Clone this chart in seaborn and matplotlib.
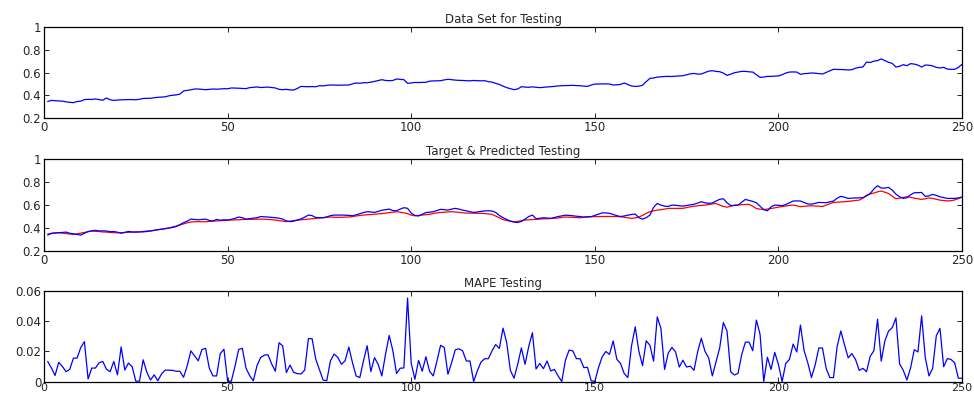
import numpy as np
import pandas as pd
import matplotlib
matplotlib.use('Agg')
import matplotlib.pyplot as plt
import matplotlib.ticker as mticker
import seaborn as sns

sns.set_style('ticks')
plt.rcParams['font.family'] = ['DejaVu Sans']
plt.rcParams['font.size'] = 8

# Data set for testing (normalised input)
data_test = [
    0.345, 0.355, 0.352, 0.35, 0.348, 0.342, 0.338, 0.335, 0.345, 0.348,
    0.362, 0.364, 0.363, 0.367, 0.362, 0.356, 0.376, 0.36, 0.355, 0.358,
    0.36, 0.361, 0.362, 0.362, 0.36, 0.365, 0.372, 0.373, 0.373, 0.378,
    0.382, 0.384, 0.386, 0.395, 0.4, 0.403, 0.41, 0.438, 0.443, 0.448,
    0.455, 0.455, 0.452, 0.449, 0.452, 0.455, 0.453, 0.455, 0.458, 0.457,
    0.464, 0.463, 0.462, 0.46, 0.458, 0.467, 0.47, 0.473, 0.468, 0.47,
    0.472, 0.468, 0.464, 0.452, 0.449, 0.452, 0.447, 0.446, 0.46, 0.478,
    0.476, 0.475, 0.476, 0.475, 0.484, 0.482, 0.487, 0.49, 0.49, 0.488,
    0.489, 0.49, 0.49, 0.5, 0.508, 0.505, 0.51, 0.51, 0.515, 0.522,
    0.53, 0.537, 0.53, 0.528, 0.53, 0.543, 0.54, 0.537, 0.505, 0.508,
    0.513, 0.512, 0.513, 0.514, 0.524, 0.526, 0.527, 0.528, 0.535, 0.54,
    0.537, 0.533, 0.531, 0.53, 0.528, 0.527, 0.53, 0.528, 0.527, 0.528,
    0.52, 0.515, 0.505, 0.495, 0.48, 0.467, 0.458, 0.449, 0.455, 0.475,
    0.472, 0.47, 0.474, 0.47, 0.467, 0.47, 0.473, 0.475, 0.478, 0.482,
    0.484, 0.485, 0.486, 0.487, 0.485, 0.484, 0.48, 0.478, 0.49, 0.498,
    0.499, 0.5, 0.5, 0.499, 0.49, 0.492, 0.495, 0.508, 0.495, 0.481,
    0.478, 0.48, 0.488, 0.52, 0.548, 0.552, 0.56, 0.562, 0.565, 0.566,
    0.565, 0.568, 0.57, 0.572, 0.58, 0.588, 0.592, 0.586, 0.587, 0.6,
    0.612, 0.616, 0.61, 0.607, 0.595, 0.575, 0.585, 0.598, 0.604, 0.61,
    0.61, 0.606, 0.604, 0.58, 0.557, 0.56, 0.566, 0.566, 0.568, 0.57,
    0.58, 0.595, 0.604, 0.605, 0.604, 0.584, 0.59, 0.592, 0.596, 0.594,
    0.59, 0.587, 0.6, 0.615, 0.628, 0.627, 0.626, 0.625, 0.622, 0.625,
    0.638, 0.645, 0.648, 0.692, 0.688, 0.7, 0.705, 0.719, 0.705, 0.69,
    0.68, 0.648, 0.655, 0.669, 0.66, 0.678, 0.674, 0.665, 0.648, 0.666,
    0.664, 0.658, 0.645, 0.64, 0.645, 0.63, 0.628, 0.628, 0.645, 0.672,
]

# Target (blue) and predicted (red) testing values
target = [
    0.339, 0.355, 0.358, 0.36, 0.362, 0.365, 0.355, 0.35, 0.345, 0.339,
    0.355, 0.37, 0.376, 0.38, 0.375, 0.376, 0.374, 0.368, 0.37, 0.364,
    0.355, 0.362, 0.371, 0.366, 0.365, 0.366, 0.367, 0.37, 0.374, 0.38,
    0.386, 0.39, 0.395, 0.4, 0.405, 0.413, 0.43, 0.447, 0.46, 0.478,
    0.475, 0.472, 0.475, 0.478, 0.466, 0.462, 0.475, 0.468, 0.472, 0.47,
    0.476, 0.484, 0.496, 0.49, 0.478, 0.482, 0.486, 0.49, 0.5, 0.498,
    0.496, 0.493, 0.49, 0.486, 0.478, 0.462, 0.456, 0.46, 0.47, 0.48,
    0.495, 0.513, 0.508, 0.492, 0.49, 0.49, 0.497, 0.508, 0.513, 0.513,
    0.513, 0.512, 0.51, 0.507, 0.515, 0.525, 0.535, 0.542, 0.54, 0.536,
    0.545, 0.555, 0.56, 0.565, 0.552, 0.55, 0.565, 0.577, 0.572, 0.53,
    0.51, 0.505, 0.52, 0.535, 0.538, 0.542, 0.552, 0.563, 0.56, 0.556,
    0.565, 0.571, 0.565, 0.556, 0.55, 0.542, 0.536, 0.54, 0.545, 0.549,
    0.551, 0.548, 0.536, 0.51, 0.49, 0.475, 0.46, 0.452, 0.449, 0.458,
    0.478, 0.5, 0.513, 0.482, 0.485, 0.49, 0.487, 0.484, 0.492, 0.5,
    0.506, 0.512, 0.51, 0.507, 0.503, 0.5, 0.496, 0.498, 0.499, 0.51,
    0.52, 0.532, 0.532, 0.528, 0.518, 0.508, 0.5, 0.505, 0.512, 0.518,
    0.522, 0.49, 0.478, 0.49, 0.513, 0.58, 0.614, 0.6, 0.59, 0.588,
    0.6, 0.598, 0.594, 0.591, 0.596, 0.602, 0.607, 0.617, 0.629, 0.62,
    0.615, 0.618, 0.635, 0.65, 0.655, 0.62, 0.596, 0.597, 0.6, 0.625,
    0.649, 0.64, 0.632, 0.62, 0.59, 0.56, 0.55, 0.585, 0.6, 0.598,
    0.594, 0.605, 0.62, 0.635, 0.636, 0.635, 0.622, 0.61, 0.608, 0.615,
    0.623, 0.622, 0.62, 0.628, 0.635, 0.66, 0.676, 0.668, 0.658, 0.66,
    0.662, 0.663, 0.664, 0.68, 0.701, 0.74, 0.768, 0.748, 0.748, 0.754,
    0.73, 0.695, 0.672, 0.658, 0.664, 0.69, 0.707, 0.708, 0.71, 0.675,
    0.68, 0.693, 0.684, 0.672, 0.665, 0.658, 0.658, 0.658, 0.662, 0.669,
]

predicted = [
    0.348, 0.352, 0.356, 0.359, 0.356, 0.352, 0.348, 0.345, 0.35, 0.356,
    0.362, 0.368, 0.374, 0.372, 0.37, 0.366, 0.365, 0.362, 0.36, 0.359,
    0.36, 0.362, 0.363, 0.365, 0.366, 0.368, 0.371, 0.374, 0.377, 0.38,
    0.385, 0.39, 0.395, 0.4, 0.41, 0.417, 0.427, 0.437, 0.446, 0.453,
    0.455, 0.456, 0.455, 0.455, 0.458, 0.46, 0.462, 0.464, 0.466, 0.468,
    0.47, 0.471, 0.472, 0.474, 0.475, 0.476, 0.476, 0.477, 0.478, 0.477,
    0.475, 0.473, 0.47, 0.465, 0.46, 0.456, 0.46, 0.465, 0.469, 0.472,
    0.475, 0.478, 0.481, 0.484, 0.488, 0.49, 0.494, 0.496, 0.494, 0.493,
    0.494, 0.495, 0.496, 0.5, 0.505, 0.51, 0.513, 0.516, 0.518, 0.52,
    0.523, 0.526, 0.53, 0.534, 0.538, 0.542, 0.538, 0.532, 0.526, 0.512,
    0.507, 0.51, 0.513, 0.516, 0.52, 0.526, 0.532, 0.536, 0.538, 0.54,
    0.542, 0.54, 0.537, 0.533, 0.53, 0.53, 0.529, 0.528, 0.528, 0.526,
    0.523, 0.519, 0.505, 0.49, 0.474, 0.466, 0.46, 0.455, 0.458, 0.464,
    0.47, 0.472, 0.474, 0.476, 0.478, 0.48, 0.481, 0.483, 0.485, 0.488,
    0.492, 0.496, 0.495, 0.493, 0.491, 0.49, 0.493, 0.496, 0.499, 0.5,
    0.5, 0.501, 0.501, 0.501, 0.5, 0.5, 0.499, 0.494, 0.489, 0.484,
    0.488, 0.496, 0.51, 0.528, 0.542, 0.55, 0.556, 0.56, 0.565, 0.571,
    0.571, 0.571, 0.571, 0.572, 0.578, 0.585, 0.59, 0.594, 0.597, 0.6,
    0.605, 0.61, 0.614, 0.6, 0.588, 0.582, 0.59, 0.598, 0.601, 0.603,
    0.605, 0.606, 0.59, 0.57, 0.564, 0.562, 0.565, 0.57, 0.576, 0.582,
    0.587, 0.592, 0.597, 0.6, 0.594, 0.586, 0.589, 0.592, 0.594, 0.592,
    0.59, 0.588, 0.6, 0.612, 0.623, 0.625, 0.627, 0.629, 0.632, 0.636,
    0.64, 0.643, 0.66, 0.685, 0.697, 0.705, 0.715, 0.722, 0.712, 0.7,
    0.678, 0.655, 0.66, 0.667, 0.672, 0.667, 0.66, 0.655, 0.649, 0.655,
    0.662, 0.658, 0.65, 0.643, 0.64, 0.636, 0.638, 0.645, 0.656, 0.669,
]

# MAPE per testing sample
mape = [
    0.0133, 0.009, 0.004, 0.0127, 0.010, 0.0065, 0.008, 0.0155, 0.0155, 0.0225,
    0.0264, 0.0017, 0.0089, 0.0089, 0.0124, 0.0133, 0.0081, 0.0065, 0.0133, 0.0044,
    0.0229, 0.0076, 0.0122, 0.0098, 0.0002, 0.0002, 0.0144, 0.0061, 0.001, 0.0044,
    0.0005, 0.005, 0.0076, 0.0075, 0.0074, 0.0068, 0.0068, 0.0028, 0.0105, 0.0203,
    0.017, 0.0137, 0.0212, 0.022, 0.0089, 0.0037, 0.0037, 0.0185, 0.0214, 0.0002,
    0.0002, 0.01, 0.0212, 0.022, 0.0089, 0.0039, 0.0005, 0.0105, 0.0159, 0.0175,
    0.0177, 0.0116, 0.0068, 0.0257, 0.0236, 0.0059, 0.0109, 0.006, 0.0052, 0.005,
    0.0076, 0.0284, 0.0284, 0.0148, 0.008, 0.001, 0.0005, 0.0137, 0.0182, 0.016,
    0.0114, 0.0138, 0.0228, 0.0125, 0.0037, 0.0026, 0.0138, 0.0237, 0.0066, 0.0158,
    0.0114, 0.0037, 0.018, 0.0305, 0.0204, 0.0053, 0.0088, 0.009, 0.0553, 0.012,
    0.0015, 0.014, 0.0068, 0.0164, 0.0068, 0.0037, 0.0135, 0.024, 0.0225, 0.0048,
    0.0125, 0.021, 0.0217, 0.0203, 0.0136, 0.0136, 0.0, 0.007, 0.0129, 0.0151,
    0.0151, 0.0203, 0.0245, 0.0219, 0.0354, 0.0258, 0.0074, 0.0022, 0.0114, 0.0223,
    0.0114, 0.0232, 0.0323, 0.0083, 0.012, 0.0085, 0.0136, 0.007, 0.008, 0.0037,
    0.0, 0.0142, 0.0208, 0.0203, 0.0151, 0.0151, 0.0092, 0.0094, 0.0005, 0.0,
    0.0092, 0.0164, 0.0199, 0.018, 0.0269, 0.0147, 0.012, 0.0053, 0.0026, 0.0236,
    0.0362, 0.02, 0.0105, 0.027, 0.024, 0.0135, 0.0428, 0.0352, 0.008, 0.0189,
    0.0226, 0.0196, 0.0096, 0.0141, 0.0096, 0.0102, 0.0074, 0.0196, 0.0287, 0.02,
    0.0157, 0.0037, 0.013, 0.0222, 0.0391, 0.0335, 0.0065, 0.0043, 0.0054, 0.0178,
    0.0261, 0.0261, 0.0204, 0.0407, 0.0313, 0.0, 0.0161, 0.008, 0.0193, 0.0113,
    0.0, 0.012, 0.0146, 0.0248, 0.0196, 0.0374, 0.0204, 0.0124, 0.0026, 0.0109,
    0.0222, 0.0222, 0.0087, 0.0026, 0.0026, 0.0233, 0.0335, 0.0243, 0.0157, 0.0185,
    0.0146, 0.0074, 0.0087, 0.0065, 0.0167, 0.0204, 0.0413, 0.0135, 0.027, 0.0335,
    0.0357, 0.0422, 0.0117, 0.0074, 0.001, 0.0091, 0.0211, 0.0196, 0.0435, 0.0157,
    0.0037, 0.0087, 0.0304, 0.0352, 0.0098, 0.0152, 0.0146, 0.0124, 0.0022, 0.0022,
]

x_ticks = [0, 50, 100, 150, 200, 250]

idx = np.arange(1, len(data_test) + 1)
df = pd.DataFrame({'t': idx, 'data': data_test, 'target': target,
                   'predicted': predicted, 'mape': mape})

fig = plt.figure(figsize=(9.74, 3.96), dpi=100)
ax1 = fig.add_axes([0.0452, 0.702, 0.9425, 0.2298])
ax2 = fig.add_axes([0.0452, 0.366, 0.9425, 0.2323])
ax3 = fig.add_axes([0.0452, 0.0366, 0.9425, 0.2286])

lw = 0.9
sns.lineplot(data=df, x='t', y='data', ax=ax1, color='#0000ff', lw=lw)
sns.lineplot(data=df, x='t', y='predicted', ax=ax2, color='#ff0000', lw=lw)
sns.lineplot(data=df, x='t', y='target', ax=ax2, color='#0000ff', lw=lw)
sns.lineplot(data=df, x='t', y='mape', ax=ax3, color='#0000ff', lw=lw)

titles = ['Data Set for Testing', 'Target & Predicted Testing', 'MAPE Testing']
ylims = [(0.2, 1), (0.2, 1), (0, 0.06)]
yticks = [[0.2, 0.4, 0.6, 0.8, 1], [0.2, 0.4, 0.6, 0.8, 1], [0, 0.02, 0.04, 0.06]]

for ax, title, yl, yt in zip([ax1, ax2, ax3], titles, ylims, yticks):
    ax.set_xlim(0, 250)
    ax.set_ylim(*yl)
    ax.set_xticks(x_ticks)
    ax.set_yticks(yt)
    ax.yaxis.set_major_formatter(mticker.FormatStrFormatter('%g'))
    ax.set_xlabel('')
    ax.set_ylabel('')
    ax.set_title(title, fontsize=8.5, pad=3)
    ax.tick_params(direction='in', length=3.5, width=0.7, top=True, right=True,
                   labelsize=8.5, pad=2)
    for sp in ax.spines.values():
        sp.set_visible(True)
        sp.set_linewidth(0.9)
        sp.set_color('black')

# keep the bottom row of tick labels inside the canvas
ax3.tick_params(axis='x', labelsize=8, pad=1)

fig.savefig('out.png', dpi=100)
